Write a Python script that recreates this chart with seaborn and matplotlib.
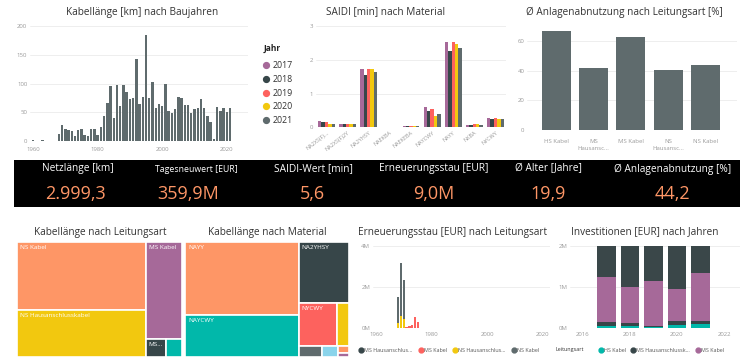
import pandas as pd
import matplotlib
matplotlib.use("Agg")
import matplotlib.pyplot as plt
import seaborn as sns
from matplotlib.patches import Rectangle
from matplotlib.lines import Line2D
from matplotlib.transforms import Bbox

# ---------------- data ----------------
baujahre = [1960, 1963] + list(range(1968, 2022))
kabel_km = [1, 1,
            12, 27, 21, 19, 17, 8, 19, 21, 11, 8,
            21, 21, 10, 24, 43, 66, 95, 40, 97, 61,
            98, 85, 73, 75, 142, 65, 76, 184, 74, 102,
            58, 64, 61, 100, 52, 49, 56, 77, 75, 62,
            62, 48, 56, 57, 73, 58, 43, 33, 3, 59,
            53, 58, 50, 58]

materialien = ["NA2XS(F)...", "NA2XS(F)2Y", "NA2YHSY", "NAEKBA", "NAEKEBA",
               "NAYCWY", "NAYY", "NKBA", "NYCWY"]
saidi_jahre = ["2017", "2018", "2019", "2020", "2021"]
saidi_2017 = [0.19, 0.09, 1.73, 0.01, 0.04, 0.60, 2.53, 0.08, 0.27]
saidi_2018 = [0.15, 0.09, 1.56, 0.01, 0.04, 0.47, 2.26, 0.08, 0.25]
saidi_2019 = [0.16, 0.10, 1.73, 0.01, 0.05, 0.53, 2.53, 0.09, 0.27]
saidi_2020 = [0.11, 0.10, 1.73, 0.01, 0.05, 0.33, 2.47, 0.09, 0.26]
saidi_2021 = [0.11, 0.10, 1.64, 0.01, 0.04, 0.39, 2.36, 0.08, 0.26]

leitungsarten = ["HS Kabel", "MS Hausanschlusskabel", "MS Kabel",
                 "NS Hausanschlusskabel", "NS Kabel"]
leitungsart_ticks = ["HS Kabel", "MS\nHausansc...", "MS Kabel", "NS\nHausansc...", "NS Kabel"]
abnutzung_pct = [66.6, 41.8, 62.8, 40.4, 43.8]

kpi_labels = ["Netzlänge [km]", "Tagesneuwert [EUR]", "SAIDI-Wert [min]",
              "Erneuerungsstau [EUR]", "Ø Alter [Jahre]", "Ø Anlagenabnutzung [%]"]
kpi_values = ["2.999,3", "359,9M", "5,6", "9,0M", "19,9", "44,2"]

tm_leit_namen = ["NS Kabel", "NS Hausanschlusskabel", "MS Kabel", "MS Hausanschlusskabel", "HS Kabel"]
tm_leit_labels = ["NS Kabel", "NS Hausanschlusskabel", "MS Kabel", "MS...", ""]
tm_leit_km = [1380, 954, 555, 57, 46]

tm_mat_namen = ["NAYY", "NAYCWY", "NA2YHSY", "NYCWY", "NKBA", "NA2XS(F)2Y",
                "NAEKEBA", "NA2XS(F)...", "NAEKBA"]
tm_mat_labels = ["NAYY", "NAYCWY", "NA2YHSY", "NYCWY", "", "", "", "", ""]
tm_mat_km = [1321, 760, 486, 268, 82, 39, 28, 11, 7]

stau_jahre_ns = [1968, 1969, 1970]
stau_nshaus_mio = [0.24, 0.60, 0.42]
stau_nskabel_mio = [1.26, 2.59, 1.93]
stau_jahre_ms = [1971, 1972, 1973, 1974, 1975]
stau_mskabel_mio = [0.07, 0.09, 0.13, 0.52, 0.30]
stau_legende = ["MS Hausanschlus...", "MS Kabel", "NS Hausanschlus...", "NS Kabel"]

inv_jahre = [2017, 2018, 2019, 2020, 2021]
inv_hs_mio = [0.056, 0.04, 0.02, 0.08, 0.10]
inv_mshaus_mio = [0.10, 0.07, 0.03, 0.08, 0.08]
inv_ms_mio = [1.08, 0.88, 1.09, 0.79, 1.17]
inv_ns_mio = [0.76, 1.01, 0.86, 1.05, 0.65]

# power bi palette
TEAL, DARK, RED, YELLOW, GRAY = "#01B8AA", "#374649", "#FD625E", "#F2C80F", "#5F6B6D"
LBLUE, ORANGE, PURPLE = "#8AD4EB", "#FE9666", "#A66999"
TICK = "#9A9A9A"
GRID = "#EBEBEB"
TITLE = "#333333"

sns.set_style("white")
plt.rcParams["font.family"] = ["Open Sans", "DejaVu Sans"]

W, H = 752, 361
fig = plt.figure(figsize=(W / 100, H / 100), dpi=100)


def box(x0, y0, x1, y1):
    return [x0 / W, 1 - y1 / H, (x1 - x0) / W, (y1 - y0) / H]


def ftext(x, y, s, **kw):
    fig.text(x / W, 1 - y / H, s, **kw)


def style(ax, yticks, ylabels=None, xpad=2):
    for sp in ax.spines.values():
        sp.set_visible(False)
    ax.set_yticks(yticks)
    if ylabels is not None:
        ax.set_yticklabels(ylabels)
    ax.grid(axis="y", color=GRID, lw=0.6)
    ax.grid(axis="x", visible=False)
    ax.set_axisbelow(True)
    ax.tick_params(length=0, labelsize=4.3, labelcolor=TICK, pad=2)
    ax.tick_params(axis="x", pad=xpad)
    ax.set_xlabel("")
    ax.set_ylabel("")


def squarify(values, x0, y0, x1, y1, ratio=(1 + 5 ** 0.5) / 2):
    # port of d3 treemapSquarify
    rects = []
    total = float(sum(values))
    i0, n = 0, len(values)
    while i0 < n:
        dx, dy = x1 - x0, y1 - y0
        s = values[i0]
        i1 = i0 + 1
        vmin = vmax = s
        alpha = max(dy / dx, dx / dy) / (total * ratio)
        beta = s * s * alpha
        min_ratio = max(vmax / beta, beta / vmin)
        while i1 < n:
            v = values[i1]
            s2 = s + v
            vmin2, vmax2 = min(vmin, v), max(vmax, v)
            beta = s2 * s2 * alpha
            new_ratio = max(vmax2 / beta, beta / vmin2)
            if new_ratio > min_ratio:
                break
            s, vmin, vmax, min_ratio = s2, vmin2, vmax2, new_ratio
            i1 += 1
        row = values[i0:i1]
        if dx < dy:
            h = dy * s / total
            xx = x0
            for v in row:
                w = dx * v / s
                rects.append((xx, y0, w, h))
                xx += w
            y0 += h
        else:
            w = dx * s / total
            yy = y0
            for v in row:
                h = dy * v / s
                rects.append((x0, yy, w, h))
                yy += h
            x0 += w
        total -= s
        i0 = i1
    return rects


def treemap(x0, y0, x1, y1, values, labels, colors):
    ax = fig.add_axes(box(x0, y0, x1, y1))
    ax.set_xlim(0, x1 - x0)
    ax.set_ylim(y1 - y0, 0)
    ax.axis("off")
    for (rx, ry, rw, rh), lab, c in zip(squarify(values, 0, 0, x1 - x0, y1 - y0), labels, colors):
        ax.add_patch(Rectangle((rx, ry), rw, rh, facecolor=c, edgecolor="white", lw=1.2))
        if lab:
            ax.text(rx + 3, ry + 3, lab, color="white", fontsize=4.6, va="top", ha="left")
    return ax


# ---------------- Kabellänge nach Baujahren ----------------
ax1 = fig.add_axes(box(30, 24, 248, 141))
df_bau = pd.DataFrame({"Baujahr": baujahre, "km": kabel_km})
sns.histplot(data=df_bau, x="Baujahr", weights="km", discrete=True, shrink=0.75,
             color=GRAY, alpha=1, linewidth=0, ax=ax1)
ax1.set_xlim(1959.07, 2026.56)
ax1.set_ylim(0, 203.5)
ax1.set_xticks([1960, 1980, 2000, 2020])
style(ax1, [0, 50, 100, 150, 200], xpad=4.5)
ftext(142, 12, "Kabellänge [km] nach Baujahren", ha="center", va="center", fontsize=7.2, color=TITLE)

# ---------------- SAIDI nach Material ----------------
ax2 = fig.add_axes(box(316, 25, 506, 127.3))
df_saidi = pd.DataFrame({"Material": materialien * 5,
                         "Jahr": [j for j in saidi_jahre for _ in materialien],
                         "SAIDI": saidi_2017 + saidi_2018 + saidi_2019 + saidi_2020 + saidi_2021})
jahr_farben = dict(zip(saidi_jahre, [PURPLE, DARK, RED, YELLOW, GRAY]))
sns.barplot(data=df_saidi, x="Material", y="SAIDI", hue="Jahr", palette=jahr_farben,
            saturation=1, width=0.8, linewidth=0, legend=False, ax=ax2)
ax2.set_xlim(-0.5, 8.5)
ax2.set_ylim(0, 3.03)
style(ax2, [0, 1, 2, 3])
ax2.set_xticks(range(len(materialien)))
ax2.set_xticklabels(materialien, rotation=38, ha="right", rotation_mode="anchor", fontsize=4)
ftext(386, 12, "SAIDI [min] nach Material", ha="center", va="center", fontsize=7.2, color=TITLE)
ftext(264, 48, "Jahr", ha="left", va="center", fontsize=6, fontweight="bold", color="#222222")
jahr_handles = [Line2D([], [], marker="o", ls="", color=jahr_farben[j], markersize=4.2) for j in saidi_jahre]
fig.legend(jahr_handles, saidi_jahre, loc="upper left", bbox_to_anchor=(261 / W, 1 - 61 / H),
           frameon=False, fontsize=6.3, labelspacing=0.55, handletextpad=0.1,
           handlelength=1.2, borderpad=0, borderaxespad=0, labelcolor="#333333")

# ---------------- Anlagenabnutzung nach Leitungsart ----------------
ax3 = fig.add_axes(box(527, 30, 737, 130))
df_abn = pd.DataFrame({"Leitungsart": leitungsarten, "Abnutzung": abnutzung_pct})
sns.barplot(data=df_abn, x="Leitungsart", y="Abnutzung", color=GRAY, saturation=1,
            width=0.78, linewidth=0, ax=ax3)
ax3.set_xlim(-0.79, 4.85)
ax3.set_ylim(0, 67.4)
style(ax3, [0, 20, 40, 60], xpad=6.5)
ax3.set_xticks(range(len(leitungsarten)))
ax3.set_xticklabels(leitungsart_ticks, fontsize=4.3, va="top", linespacing=1.5)
for lab in ax3.get_xticklabels():
    lab.set_clip_box(Bbox.from_extents(0, H - 151, W, H))
    lab.set_clip_on(True)
ftext(624, 12, "Ø Anlagenabnutzung nach Leitungsart [%]", ha="center", va="center",
      fontsize=7.2, color=TITLE)

# ---------------- KPI band ----------------
axk = fig.add_axes(box(14, 160, 740, 207))
axk.set_facecolor("black")
axk.set_xticks([])
axk.set_yticks([])
for sp in axk.spines.values():
    sp.set_visible(False)
kpi_label_x = [78, 196, 313, 434, 548, 673]
kpi_value_x = [75, 188, 312, 434, 548, 672]
for lx, vx, lab, val in zip(kpi_label_x, kpi_value_x, kpi_labels, kpi_values):
    ftext(lx, 169, lab, ha="center", va="center", color="white",
          fontsize=6.3 if lab.startswith("Tages") else 7.3)
    ftext(vx, 194, val, ha="center", va="center", color=ORANGE, fontsize=13)

# ---------------- treemaps ----------------
treemap(17, 242, 182, 357, tm_leit_km, tm_leit_labels, [ORANGE, YELLOW, PURPLE, DARK, TEAL])
ftext(100, 232, "Kabellänge nach Leitungsart", ha="center", va="center", fontsize=7.2, color=TITLE)
treemap(185, 242, 349, 357, tm_mat_km, tm_mat_labels,
        [ORANGE, TEAL, DARK, RED, YELLOW, GRAY, LBLUE, ORANGE, PURPLE])
ftext(267, 232, "Kabellänge nach Material", ha="center", va="center", fontsize=7.2, color=TITLE)

# ---------------- Erneuerungsstau ----------------
ax4 = fig.add_axes(box(373, 244, 550, 328))
df_stau = pd.DataFrame({
    "Jahr": stau_jahre_ns + stau_jahre_ns + stau_jahre_ms,
    "Mio": stau_nshaus_mio + stau_nskabel_mio + stau_mskabel_mio,
    "Leitungsart": ["NS Hausanschlusskabel"] * 3 + ["NS Kabel"] * 3 + ["MS Kabel"] * 5,
})
stau_farben = {"MS Hausanschlusskabel": DARK, "MS Kabel": RED,
               "NS Hausanschlusskabel": YELLOW, "NS Kabel": GRAY}
stau_order = ["MS Hausanschlusskabel", "MS Kabel", "NS Hausanschlusskabel", "NS Kabel"]
sns.histplot(data=df_stau, x="Jahr", weights="Mio", hue="Leitungsart",
             hue_order=stau_order[::-1], palette=stau_farben, multiple="stack",
             discrete=True, shrink=0.85, alpha=1, linewidth=0, legend=False, ax=ax4)
ax4.set_xlim(1958.92, 2022.52)
ax4.set_ylim(0, 4.1)
ax4.set_xticks([1960, 1980, 2000, 2020])
style(ax4, [0, 2, 4], ["0M", "2M", "4M"], xpad=3)
ftext(453, 232, "Erneuerungsstau [EUR] nach Leitungsart", ha="center", va="center",
      fontsize=7.2, color=TITLE)
stau_handles = [Line2D([], [], marker="o", ls="", color=stau_farben[k], markersize=3.5) for k in stau_order]
fig.legend(stau_handles, stau_legende, loc="center left", bbox_to_anchor=(358 / W, 1 - 350 / H),
           ncol=4, frameon=False, fontsize=3.9, handletextpad=0.05, columnspacing=1.1,
           handlelength=1.0, borderpad=0, borderaxespad=0, labelcolor="#555555")

# ---------------- Investitionen ----------------
ax5 = fig.add_axes(box(570, 244, 740, 328))
inv_order = ["HS Kabel", "MS Hausanschlusskabel", "MS Kabel", "NS Kabel"]
df_inv = pd.DataFrame({
    "Jahr": inv_jahre * 4,
    "Mio": inv_hs_mio + inv_mshaus_mio + inv_ms_mio + inv_ns_mio,
    "Leitungsart": [k for k in inv_order for _ in inv_jahre],
})
inv_farben = {"HS Kabel": TEAL, "MS Hausanschlusskabel": DARK, "MS Kabel": PURPLE, "NS Kabel": "#3A4749"}
sns.histplot(data=df_inv, x="Jahr", weights="Mio", hue="Leitungsart",
             hue_order=inv_order[::-1], palette=inv_farben, multiple="stack",
             discrete=True, shrink=0.8, alpha=1, linewidth=0, legend=False, ax=ax5)
ax5.set_xlim(2015.45, 2022.68)
ax5.set_ylim(0, 2.049)
ax5.set_xticks([2016, 2018, 2020, 2022])
style(ax5, [0, 1, 2], ["0M", "1M", "2M"], xpad=3)
ftext(645, 232, "Investitionen [EUR] nach Jahren", ha="center", va="center", fontsize=7.2, color=TITLE)
ftext(556, 350, "Leitungsart", ha="left", va="center", fontsize=3.9, color="#333333")
inv_handles = [Line2D([], [], marker="o", ls="", color=inv_farben[k], markersize=3.5) for k in inv_order[:3]]
fig.legend(inv_handles, ["HS Kabel", "MS Hausanschlussk...", "MS Kabel"], loc="center left",
           bbox_to_anchor=(598 / W, 1 - 350 / H), ncol=3, frameon=False, fontsize=3.9,
           handletextpad=0.05, columnspacing=0.9, handlelength=1.0, borderpad=0,
           borderaxespad=0, labelcolor="#555555")

fig.savefig("out.png", dpi=100)
